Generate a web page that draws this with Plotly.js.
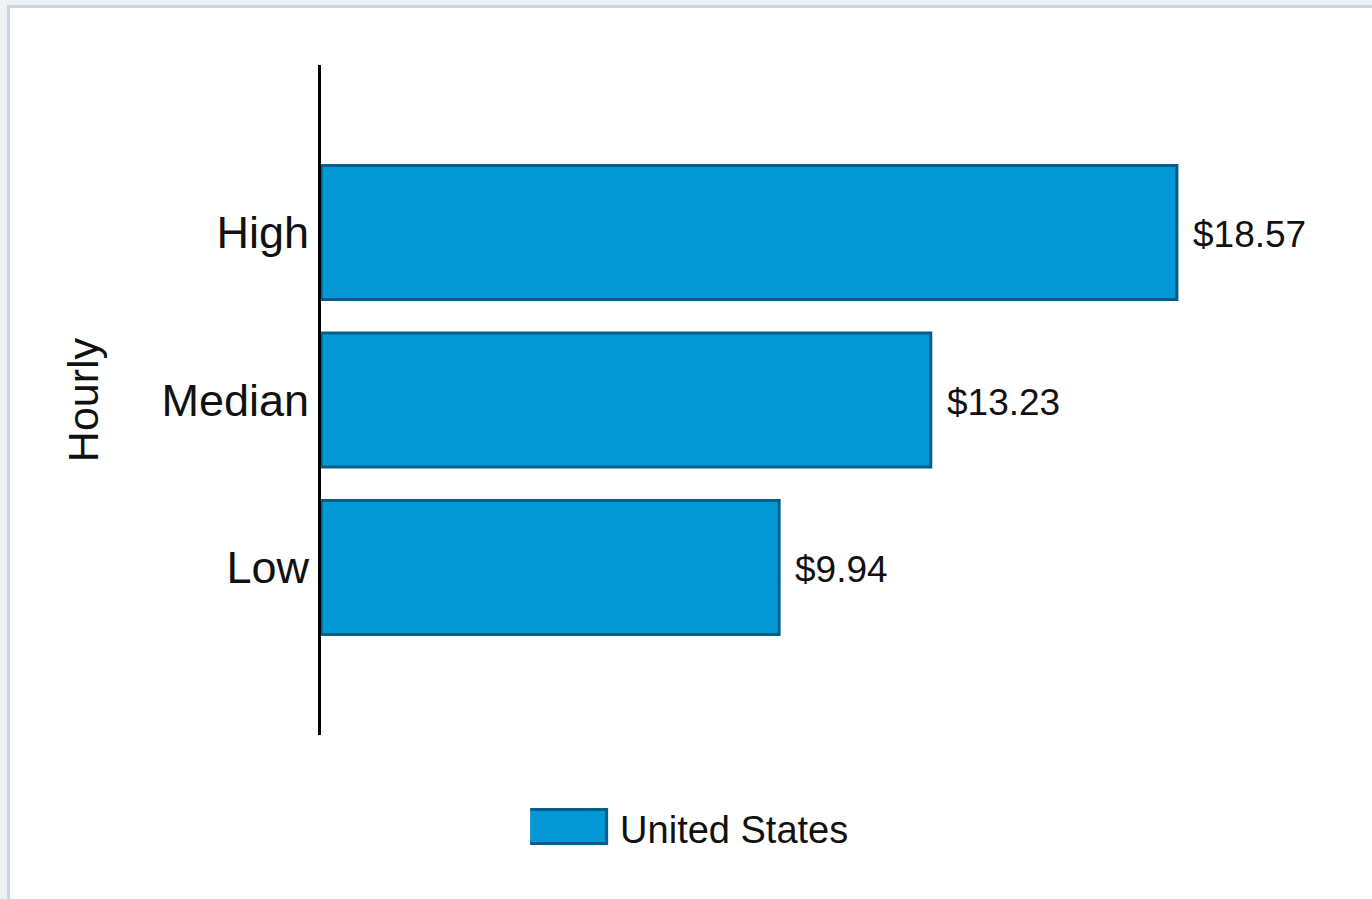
<!DOCTYPE html>
<html>
<head>
<meta charset="utf-8">
<script src="https://cdn.plot.ly/plotly-3.0.1.min.js"></script>
<style>
  html, body { margin: 0; padding: 0; background: #eff1f5; width: 1372px; height: 899px; overflow: hidden; }
  #frame { position: absolute; left: 7px; top: 5px; width: 1400px; height: 960px; background: #ffffff; border: 3px solid #c8d6e4; box-sizing: border-box; }
  #chart { position: absolute; left: 0; top: 0; width: 1372px; height: 899px; }
</style>
</head>
<body>
<div id="frame"></div>
<div id="chart"></div>
<script>
const categories = ['Low', 'Median', 'High'];
const values = [9.94, 13.23, 18.57];
const seriesName = 'United States';
const axisTitle = 'Hourly';

const barColor = '#0397d6';
const edgeColor = '#045f86';
const fontFamily = '"Liberation Sans", Arial, sans-serif';

const trace = {
  type: 'bar',
  orientation: 'h',
  y: categories,
  x: values,
  name: seriesName,
  marker: { color: barColor, line: { color: edgeColor, width: 3 } },
  hoverinfo: 'none',
  showlegend: true
};

const annotations = categories.map((c, i) => ({
  x: values[i], y: c, xref: 'x', yref: 'y',
  text: '$' + values[i].toFixed(2),
  showarrow: false, xanchor: 'left', yanchor: 'middle', xshift: 14, yshift: -2,
  font: { family: fontFamily, size: 37, color: '#111111' }
}));

const layout = {
  width: 1372, height: 899,
  margin: { l: 321, r: 37, t: 65, b: 164, pad: 0 },
  paper_bgcolor: 'rgba(0,0,0,0)',
  plot_bgcolor: 'rgba(0,0,0,0)',
  bargap: 0.2,
  font: { family: fontFamily, color: '#111111' },
  xaxis: { visible: false, range: [0, 22], fixedrange: true },
  yaxis: {
    type: 'category',
    range: [-1, 3],
    showline: true, linecolor: '#000000', linewidth: 3,
    showgrid: false, zeroline: false, ticks: '',
    ticklabelstandoff: 0,
    tickfont: { family: fontFamily, size: 45, color: '#111111' },
    title: { text: axisTitle, standoff: 50, font: { family: fontFamily, size: 43, color: '#111111' } },
    fixedrange: true
  },
  showlegend: true,
  legend: {
    orientation: 'h', x: 0.366, xanchor: 'center', y: -0.14, yanchor: 'middle',
    itemwidth: 80,
    font: { family: fontFamily, size: 38, color: '#111111' },
    bgcolor: 'rgba(0,0,0,0)'
  },
  annotations: annotations
};

Plotly.newPlot('chart', [trace], layout, { displayModeBar: false, staticPlot: true }).then(gd => {
  gd.querySelectorAll('.legend .legendpoints path').forEach(p => {
    p.setAttribute('d', 'M31.5,15H-46.5V-19H31.5Z');
    p.style.strokeWidth = '3px';
  });
});
</script>
</body>
</html>
